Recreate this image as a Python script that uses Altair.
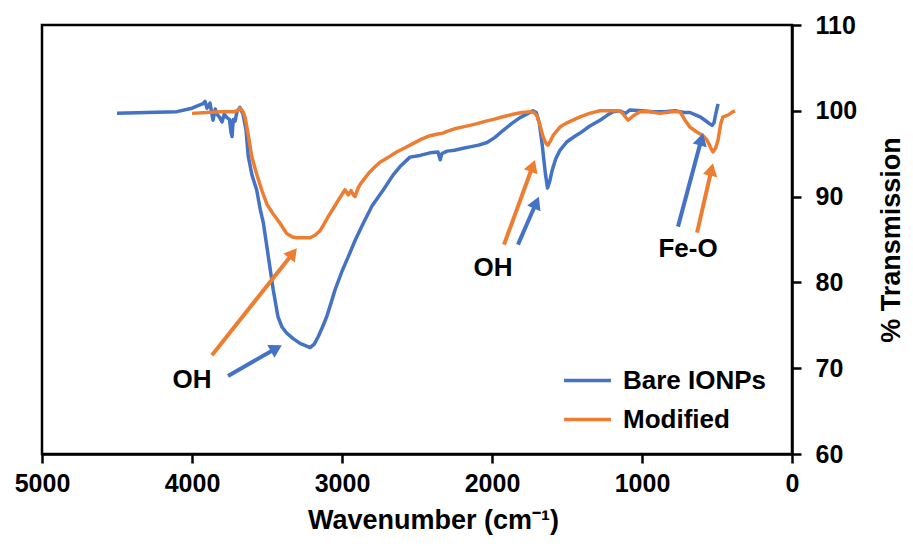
import math
import altair as alt
import pandas as pd

FONT = "Liberation Sans"
BLUE = "#4472C4"
ORANGE = "#ED7D31"
W, H = 750, 429
XMAX, YMIN, YMAX = 5000, 60, 110

series_names = ["Bare IONPs", "Modified"]

bare_wn = [4500, 4300, 4100, 4000, 3960, 3930, 3913, 3900, 3880, 3860, 3845, 3833, 3815, 3800,
           3785, 3767, 3750, 3740, 3733, 3725, 3713, 3700, 3680, 3660, 3640, 3625, 3600, 3569,
           3545, 3524, 3491, 3458, 3427, 3400, 3369, 3330, 3280, 3240, 3213, 3185, 3158, 3130,
           3102, 3075, 3047, 3000, 2958, 2910, 2858, 2800, 2724, 2660, 2613, 2547, 2480, 2413,
           2360, 2345, 2335, 2300, 2250, 2200, 2147, 2090, 2033, 1980, 1927, 1870, 1813, 1760,
           1727, 1705, 1685, 1665, 1645, 1630, 1615, 1600, 1575, 1547, 1500, 1450, 1413, 1350,
           1280, 1230, 1193, 1150, 1110, 1080, 1000, 927, 850, 780, 720, 680, 640, 613, 580, 550,
           533, 520, 510, 493]
bare_t = [99.7, 99.8, 99.9, 100.3, 100.6, 100.8, 101.1, 100.3, 100.9, 98.9, 100.2, 99.6, 99.2, 98.7,
          99.6, 99.2, 99.0, 97.5, 97.0, 99.0, 98.8, 99.9, 100.4, 99.6, 97.8, 94.7, 92.5, 90.8,
          88.5, 86.9, 83.0, 79.1, 76.0, 74.8, 74.1, 73.5, 72.9, 72.6, 72.4, 72.8, 73.7, 74.8,
          76.0, 77.5, 79.1, 81.3, 83.0, 85.0, 86.9, 88.9, 90.8, 92.5, 93.5, 94.6, 94.8, 95.1,
          95.2, 94.3, 95.0, 95.3, 95.4, 95.6, 95.8, 96.0, 96.3, 96.9, 97.7, 98.5, 99.2, 99.7,
          100.0, 99.8, 98.6, 96.0, 92.8, 91.0, 91.8, 93.0, 94.4, 95.4, 96.4, 97.0, 97.4, 98.2,
          98.9, 99.5, 99.9, 100.0, 99.7, 100.1, 100.0, 99.9, 99.9, 100.0, 99.8, 99.8, 99.5, 99.3, 98.9, 98.5,
          98.3, 98.6, 99.5, 100.8]

mod_wn = [4000, 3900, 3800, 3767, 3720, 3700, 3680, 3660, 3647, 3625, 3602, 3570, 3536, 3500,
          3460, 3413, 3369, 3330, 3302, 3250, 3213, 3180, 3147, 3120, 3091, 3055, 3024, 2980,
          2958, 2940, 2925, 2913, 2895, 2880, 2850, 2824, 2790, 2747, 2690, 2636, 2580, 2524,
          2470, 2413, 2360, 2327, 2300, 2250, 2200, 2147, 2100, 2040, 1990, 1927, 1860, 1800,
          1747, 1720, 1700, 1680, 1660, 1640, 1627, 1610, 1590, 1547, 1500, 1450, 1413, 1350,
          1280, 1200, 1147, 1120, 1093, 1060, 1013, 950, 880, 800, 747, 713, 680, 633, 600, 567,
          545, 527, 510, 493, 475, 460, 427, 393, 380]
mod_t = [99.7, 99.8, 99.9, 99.9, 99.9, 100.0, 100.3, 99.9, 99.3, 97.2, 94.7, 92.7, 90.8, 89.1,
         88.0, 86.9, 85.7, 85.3, 85.2, 85.2, 85.2, 85.5, 86.0, 86.8, 87.7, 88.7, 89.6, 90.8,
         90.2, 90.7, 90.2, 90.0, 90.9, 91.4, 92.1, 92.7, 93.3, 94.0, 94.6, 95.2, 95.7, 96.2,
         96.7, 97.1, 97.3, 97.4, 97.6, 97.9, 98.1, 98.3, 98.5, 98.8, 99.0, 99.3, 99.6, 99.8,
         99.9, 99.8, 99.4, 98.3, 97.0, 96.2, 96.0, 96.5, 97.2, 98.1, 98.6, 99.0, 99.3, 99.7,
         100.0, 100.0, 100.0, 99.5, 98.9, 99.4, 99.9, 99.9, 99.7, 99.9, 99.9, 98.9, 98.1, 97.5, 97.2, 96.6,
         95.8, 95.2, 95.6, 96.6, 98.5, 99.3, 99.5, 99.9, 100.0]

# annotation labels (wavenumber, %T)
label_text = ["OH", "OH", "Fe-O"]
label_wn = [4000, 1993, 693]
label_t = [68.6, 81.7, 83.9]

# arrows: tail -> tip, in data units
arrow_color = ["orange", "blue", "orange", "blue", "blue", "orange"]
arrow_tail_wn = [3867, 3760, 1920, 1827, 760, 633]
arrow_tail_t = [71.5, 69.1, 84.4, 84.4, 86.5, 85.8]
arrow_tip_wn = [3300, 3400, 1713, 1687, 593, 527]
arrow_tip_t = [84.0, 72.7, 94.3, 90.0, 97.4, 93.9]

df = pd.concat([
    pd.DataFrame({"wn": bare_wn, "T": bare_t, "series": series_names[0], "order": range(len(bare_wn))}),
    pd.DataFrame({"wn": mod_wn, "T": mod_t, "series": series_names[1], "order": range(len(mod_wn))}),
])

sx = W / XMAX
sy = H / (YMAX - YMIN)
rows = []
for c, twn, tt, hwn, ht in zip(arrow_color, arrow_tail_wn, arrow_tail_t, arrow_tip_wn, arrow_tip_t):
    tx, ty = (XMAX - twn) * sx, (YMAX - tt) * sy
    hx, hy = (XMAX - hwn) * sx, (YMAX - ht) * sy
    L = math.hypot(hx - tx, hy - ty)
    ux, uy = (hx - tx) / L, (hy - ty) / L
    cx, cy = hx - 6.5 * ux, hy - 6.5 * uy
    ang = math.degrees(math.atan2(ux, -uy)) % 360
    rows.append({"c": c, "wn": twn, "T": tt, "x2": XMAX - cx / sx, "y2": YMAX - cy / sy, "angle": ang})
arrows = pd.DataFrame(rows)

xscale = alt.Scale(domain=[0, XMAX], reverse=True, nice=False)
yscale = alt.Scale(domain=[YMIN, YMAX], nice=False)
xaxis = alt.Axis(values=[0, 1000, 2000, 3000, 4000, 5000], format="d", title="Wavenumber (cm⁻¹)",
                 labelPadding=8, titlePadding=11, titleX=391, labelFlush=False)
yaxis = alt.Axis(orient="right", values=[60, 70, 80, 90, 100, 110], format="d", title="% Transmission",
                 labelPadding=14, titlePadding=22, titleAngle=270, titleBaseline="top", labelFlush=False)

lines = alt.Chart(df).mark_line(strokeWidth=3.5, strokeJoin="round").encode(
    x=alt.X("wn:Q", scale=xscale, axis=xaxis),
    y=alt.Y("T:Q", scale=yscale, axis=yaxis),
    color=alt.Color("series:N", scale=alt.Scale(domain=series_names, range=[BLUE, ORANGE]),
                    legend=alt.Legend(title=None, orient="none", legendX=520, legendY=330,
                                      symbolType="stroke", symbolSize=2200, symbolStrokeWidth=3.5,
                                      labelFont=FONT, labelFontSize=26, labelFontWeight="bold",
                                      labelColor="black", labelOffset=10, rowPadding=-10, padding=0)),
    order="order:Q",
)

layers = [lines]
for cname, col in [("blue", BLUE), ("orange", ORANGE)]:
    sub = arrows[arrows["c"] == cname]
    layers.append(alt.Chart(sub).mark_rule(color=col, strokeWidth=4).encode(
        x=alt.X("wn:Q", scale=xscale, axis=xaxis), y=alt.Y("T:Q", scale=yscale, axis=yaxis),
        x2="x2:Q", y2="y2:Q"))
    layers.append(alt.Chart(sub).mark_point(shape="triangle-up", filled=True, color=col, size=210, opacity=1).encode(
        x=alt.X("x2:Q", scale=xscale, axis=xaxis), y=alt.Y("y2:Q", scale=yscale, axis=yaxis),
        angle=alt.Angle("angle:Q", scale=None)))

labels = pd.DataFrame({"text": label_text, "wn": label_wn, "T": label_t})
layers.append(alt.Chart(labels).mark_text(font=FONT, fontSize=26, fontWeight="bold", color="black",
                                          baseline="middle", align="center").encode(
    x=alt.X("wn:Q", scale=xscale, axis=xaxis), y=alt.Y("T:Q", scale=yscale, axis=yaxis), text="text:N"))

chart = alt.layer(*layers).properties(
    width=W, height=H,
    autosize=alt.AutoSizeParams(type="none"),
    padding={"left": 34, "top": 17, "right": 113, "bottom": 84},
).configure_view(stroke="black", strokeWidth=2.5).configure_axis(
    grid=False, domainColor="black", domainWidth=2.5, tickColor="black", tickWidth=2.5, tickSize=9,
    labelFont=FONT, labelFontSize=25, labelFontWeight="bold", labelColor="black",
    titleFont=FONT, titleFontSize=27, titleFontWeight="bold", titleColor="black",
)

chart.save("out.html", embed_options={"renderer": "svg", "actions": False})
